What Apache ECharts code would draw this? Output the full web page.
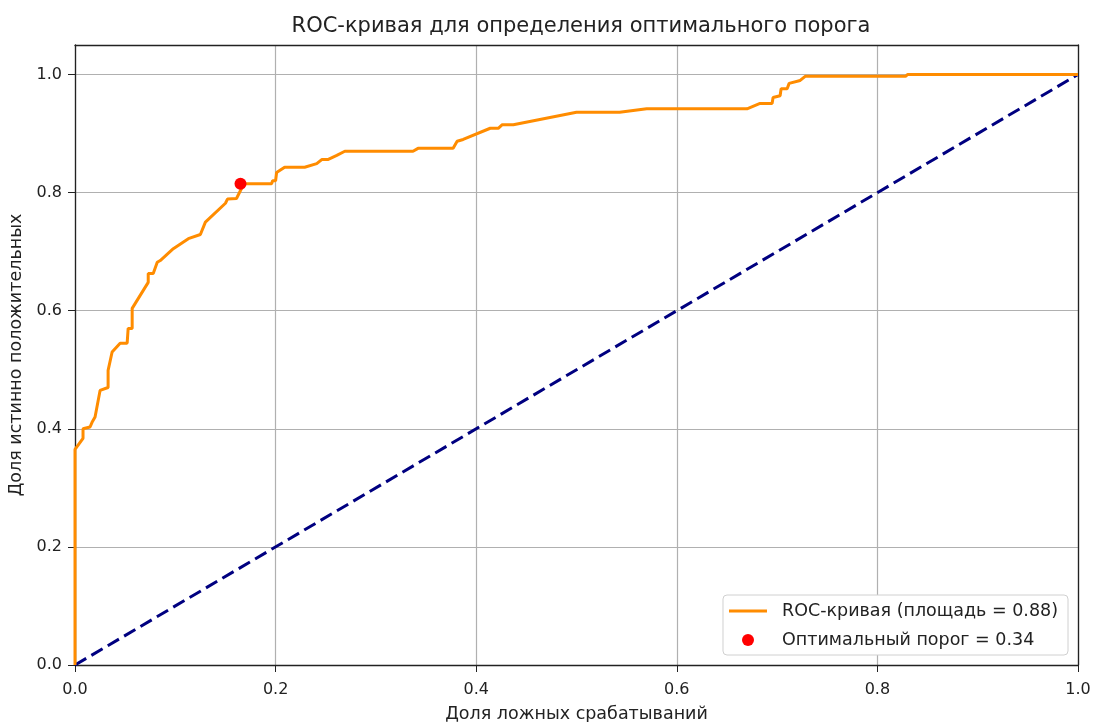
<!DOCTYPE html>
<html>
<head>
<meta charset="utf-8">
<title>ROC-кривая</title>
<script src="https://cdn.jsdelivr.net/npm/echarts@6/dist/echarts.min.js"></script>
<style>
  html, body { margin: 0; padding: 0; background: #fff; }
  #chart { width: 1094px; height: 722px; }
</style>
</head>
<body>
<div id="chart"></div>
<script>
// ROC curve: false positive rate / true positive rate pairs
const fpr = [0, 0, 0.008, 0.008, 0.015, 0.017, 0.02, 0.025, 0.033, 0.033, 0.037, 0.045, 0.052, 0.053, 0.057, 0.057,
  0.073, 0.073, 0.078, 0.082, 0.085, 0.098, 0.113, 0.125, 0.13, 0.15, 0.152, 0.161, 0.166, 0.166, 0.196, 0.197,
  0.2, 0.201, 0.209, 0.229, 0.241, 0.246, 0.252, 0.261, 0.269, 0.337, 0.342, 0.377, 0.381, 0.387, 0.414, 0.422,
  0.426, 0.437, 0.5, 0.543, 0.57, 0.67, 0.683, 0.695, 0.696, 0.703, 0.704, 0.71, 0.712, 0.723, 0.728, 0.828, 0.83, 1.0];
const tpr = [0, 0.365, 0.384, 0.4, 0.403, 0.411, 0.42, 0.465, 0.47, 0.499, 0.53, 0.545, 0.545, 0.57, 0.57, 0.604,
  0.648, 0.663, 0.663, 0.682, 0.685, 0.705, 0.722, 0.729, 0.75, 0.782, 0.789, 0.79, 0.807, 0.815, 0.815, 0.82,
  0.82, 0.834, 0.843, 0.843, 0.849, 0.856, 0.856, 0.863, 0.87, 0.87, 0.875, 0.875, 0.887, 0.89, 0.909, 0.909,
  0.915, 0.915, 0.936, 0.936, 0.942, 0.942, 0.951, 0.951, 0.961, 0.964, 0.976, 0.976, 0.985, 0.99, 0.997, 0.997, 1.0, 1.0];

// Random-guess diagonal
const diagX = [0, 1];
const diagY = [0, 1];

// Optimal threshold point
const optimalFpr = 0.165;
const optimalTpr = 0.815;
const aucValue = 0.88;
const optimalThreshold = 0.34;

const ticks = [0, 0.2, 0.4, 0.6, 0.8, 1.0];

const rocName = 'ROC-кривая (площадь = ' + aucValue.toFixed(2) + ')';
const optName = 'Оптимальный порог = ' + optimalThreshold.toFixed(2);

const FONT = 'DejaVu Sans';
const TEXT = '#222';
const chart = echarts.init(document.getElementById('chart'), null, { renderer: 'canvas' });

function tickLabel(v) {
  const isTick = ticks.some(t => Math.abs(t - v) < 1e-9);
  return isTick ? v.toFixed(1) : '';
}

const labelStyle = { color: TEXT, fontFamily: FONT, fontSize: 16 };
const frameLine = { color: '#222', width: 1.3 };

chart.setOption({
  animation: false,
  title: {
    text: 'ROC-кривая для определения оптимального порога',
    left: 576,
    top: 11,
    textAlign: 'center',
    textStyle: { fontFamily: FONT, fontSize: 21, fontWeight: 'normal', color: TEXT }
  },
  grid: { left: 75, right: 16, top: 45, bottom: 57, containLabel: false, outerBoundsMode: 'none' },
  xAxis: [{
    type: 'value', min: 0, max: 1, interval: 0.2,
    name: 'Доля ложных срабатываний',
    nameLocation: 'middle', nameGap: 40,
    nameTextStyle: { fontFamily: FONT, fontSize: 17.5, color: TEXT },
    axisLine: { show: true, lineStyle: frameLine },
    axisTick: { show: true, length: 7, lineStyle: { color: '#222' } },
    axisLabel: Object.assign({ formatter: tickLabel, margin: 17 }, labelStyle),
    splitLine: { show: true, lineStyle: { color: '#b0b0b0', width: 1.2 } }
  }, {
    type: 'value', min: 0, max: 1, position: 'top',
    axisLine: { show: true, onZero: false, lineStyle: frameLine },
    axisTick: { show: false }, axisLabel: { show: false }, splitLine: { show: false }
  }],
  yAxis: [{
    type: 'value', min: 0, max: 1.05, interval: 0.2,
    name: 'Доля истинно положительных',
    nameLocation: 'middle', nameGap: 44, nameRotate: 90,
    nameTextStyle: { fontFamily: FONT, fontSize: 17.5, color: TEXT },
    axisLine: { show: true, lineStyle: frameLine },
    axisTick: { show: true, length: 7, lineStyle: { color: '#222' } },
    axisLabel: Object.assign({ formatter: tickLabel, margin: 13, showMaxLabel: false }, labelStyle),
    splitLine: { show: true, showMaxLine: false, lineStyle: { color: '#b0b0b0', width: 1.2 } }
  }, {
    type: 'value', min: 0, max: 1.05, position: 'right',
    axisLine: { show: true, onZero: false, lineStyle: frameLine },
    axisTick: { show: false }, axisLabel: { show: false }, splitLine: { show: false }
  }],
  legend: {
    orient: 'vertical',
    right: 26, bottom: 67,
    backgroundColor: '#fff',
    borderColor: '#d0d0d0', borderWidth: 1, borderRadius: 4,
    padding: [7, 10, 6, 6],
    itemGap: 11,
    itemWidth: 38, itemHeight: 12,
    symbolKeepAspect: true,
    textStyle: { fontFamily: FONT, fontSize: 17.5, color: TEXT, padding: [0, 0, 0, 10] },
    data: [
      { name: rocName, icon: 'path://M0,0L38,0L38,3L0,3Z' },
      { name: optName, icon: 'circle' }
    ]
  },
  series: [
    {
      name: rocName, type: 'line',
      data: fpr.map((x, i) => [x, tpr[i]]),
      symbol: 'none', z: 3,
      lineStyle: { color: '#ff8c00', width: 3 },
      itemStyle: { color: '#ff8c00' }
    },
    {
      name: 'diag', type: 'line',
      data: diagX.map((x, i) => [x, diagY[i]]),
      symbol: 'none', z: 2,
      lineStyle: { color: '#000080', width: 3, type: [13, 6] }
    },
    {
      name: optName, type: 'scatter',
      data: [[optimalFpr, optimalTpr]],
      symbolSize: 12, z: 4,
      itemStyle: { color: '#ff0000', opacity: 1 }
    }
  ]
});
</script>
</body>
</html>
